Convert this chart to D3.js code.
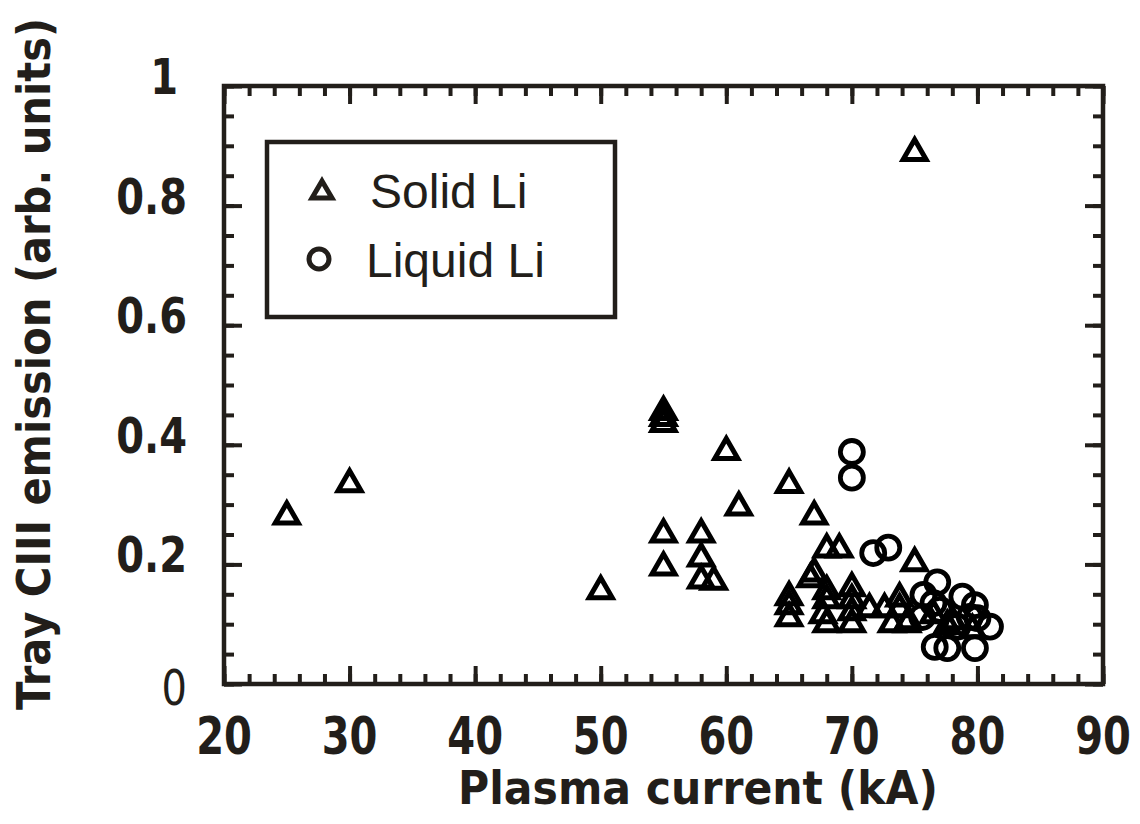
<!DOCTYPE html>
<html>
<head>
<meta charset="utf-8">
<script src="https://cdn.jsdelivr.net/npm/d3@7"></script>
<style>
  body { margin: 0; background: #fff; }
  svg { display: block; }
</style>
</head>
<body>
<div id="VizBox"></div>
<script>
// solid Li (triangles): plasma current (kA) / Tray CIII emission
var solidX = [25, 30, 75, 50, 55, 55, 55, 55, 55, 60, 61, 65, 58, 58, 58, 59,
              67, 68, 69, 67, 66.7, 65, 65, 65, 68, 68, 67.7, 68, 70, 70, 70, 70,
              71.4, 72.6, 73.8, 73.8, 73.2, 74.4, 75, 74.5, 77.6, 79.6, 76.5, 78];
var solidY = [0.285, 0.339, 0.893, 0.16, 0.46, 0.45, 0.44, 0.255, 0.2, 0.393, 0.30, 0.338, 0.255, 0.215, 0.178, 0.176,
              0.285, 0.23, 0.23, 0.19, 0.18, 0.15, 0.135, 0.115, 0.16, 0.145, 0.12, 0.105, 0.165, 0.145, 0.125, 0.105,
              0.13, 0.13, 0.148, 0.13, 0.105, 0.105, 0.207, 0.11, 0.102, 0.095, 0.12, 0.11];

// liquid Li (circles)
var liquidX = [70, 70, 71.7, 72.9, 76.8, 75.7, 76.5, 78.8, 79.8, 79.4, 81, 76.6, 77.6, 79.8, 75.6, 77, 78.4, 80];
var liquidY = [0.388, 0.345, 0.219, 0.228, 0.17, 0.149, 0.135, 0.146, 0.132, 0.112, 0.096, 0.062, 0.06, 0.06, 0.112, 0.124, 0.096, 0.11];

var xTicks = [20, 30, 40, 50, 60, 70, 80, 90];
var yTicks = [0, 0.2, 0.4, 0.6, 0.8, 1];
var yTickLabels = ["0", "0.2", "0.4", "0.6", "0.8", "1"];
var legendLabels = ["Solid Li", "Liquid Li"];

var ink = "#221e1a";
var W = 1140, H = 824;
// plot frame in page pixels
var frame = {left: 224, right: 1103, top: 86, bottom: 684};

var svg = d3.select("#VizBox")
  .append("svg")
    .attr("width", W)
    .attr("height", H);

var x = d3.scaleLinear().domain([20, 90]).range([frame.left, frame.right]);
var y = d3.scaleLinear().domain([0, 1]).range([frame.bottom, frame.top]);

var xMinor = d3.range(20, 90.1, 2);
var yMinor = d3.range(0, 1.001, 0.05);

// ticks pointing inward on all four sides
function ticks(axis, scale, vals, len, pos) {
  svg.append("g")
    .attr("transform", pos)
    .call(axis(scale).tickValues(vals).tickSize(-len).tickFormat(""))
    .call(function(g) { g.select(".domain").remove(); })
    .selectAll("line")
      .attr("stroke", ink)
      .attr("stroke-width", 4);
}
ticks(d3.axisBottom, x, xMinor, 10, "translate(0," + frame.bottom + ")");
ticks(d3.axisBottom, x, xTicks, 18, "translate(0," + frame.bottom + ")");
ticks(d3.axisTop, x, xMinor, 10, "translate(0," + frame.top + ")");
ticks(d3.axisTop, x, xTicks, 18, "translate(0," + frame.top + ")");
ticks(d3.axisLeft, y, yMinor, 10, "translate(" + frame.left + ",0)");
ticks(d3.axisLeft, y, yTicks, 18, "translate(" + frame.left + ",0)");
ticks(d3.axisRight, y, yMinor, 10, "translate(" + frame.right + ",0)");
ticks(d3.axisRight, y, yTicks, 18, "translate(" + frame.right + ",0)");

// frame
svg.append("rect")
  .attr("x", frame.left).attr("y", frame.top)
  .attr("width", frame.right - frame.left).attr("height", frame.bottom - frame.top)
  .attr("fill", "none")
  .attr("stroke", ink)
  .attr("stroke-width", 4.5);

// x tick labels
svg.selectAll(".xlab")
  .data(xTicks)
  .enter()
  .append("text")
    .attr("transform", function(d) { return "translate(" + x(d) + ",754) scale(0.77,1)"; })
    .attr("text-anchor", "middle")
    .attr("font-family", "DejaVu Sans")
    .attr("font-weight", "bold")
    .attr("font-size", 52)
    .attr("fill", ink)
    .text(function(d) { return d; });

// y tick labels
svg.selectAll(".ylab")
  .data(yTicks)
  .enter()
  .append("text")
    .attr("transform", function(d, i) {
      var dx = yTickLabels[i] == "1" ? -9 : 0;
      var dy = yTickLabels[i] == "0" ? 21 : 8;
      return "translate(" + (187 + dx) + "," + (y(d) + dy) + ") scale(0.8,1)";
    })
    .attr("text-anchor", "end")
    .attr("font-family", "DejaVu Sans")
    .attr("font-weight", function(d, i) { return yTickLabels[i] == "0" ? "normal" : "bold"; })
    .attr("font-size", 50)
    .attr("fill", ink)
    .text(function(d, i) { return yTickLabels[i]; });

// axis titles
svg.append("text")
  .attr("x", 698).attr("y", 804)
  .attr("text-anchor", "middle")
  .attr("font-family", "DejaVu Sans")
  .attr("font-weight", "bold")
  .attr("font-size", 46)
  .attr("textLength", 480)
  .attr("lengthAdjust", "spacingAndGlyphs")
  .attr("fill", ink)
  .text("Plasma current (kA)");

svg.append("text")
  .attr("transform", "translate(50,364) rotate(-90)")
  .attr("text-anchor", "middle")
  .attr("font-family", "DejaVu Sans")
  .attr("font-weight", "bold")
  .attr("font-size", 46)
  .attr("textLength", 692)
  .attr("lengthAdjust", "spacingAndGlyphs")
  .attr("fill", ink)
  .text("Tray CIII emission (arb. units)");

// markers
var triPath = "M0,-10.5L11.5,9.5L-11.5,9.5Z";

svg.selectAll(".solid")
  .data(solidX)
  .enter()
  .append("path")
    .attr("d", triPath)
    .attr("transform", function(d, i) { return "translate(" + x(d) + "," + y(solidY[i]) + ")"; })
    .attr("fill", "none")
    .attr("stroke", "#000")
    .attr("stroke-width", 5);

svg.selectAll(".liquid")
  .data(liquidX)
  .enter()
  .append("circle")
    .attr("cx", function(d) { return x(d); })
    .attr("cy", function(d, i) { return y(liquidY[i]); })
    .attr("r", 11.5)
    .attr("fill", "none")
    .attr("stroke", "#000")
    .attr("stroke-width", 4.8);

// legend
svg.append("rect")
  .attr("x", 267).attr("y", 142)
  .attr("width", 348).attr("height", 175)
  .attr("fill", "#fff")
  .attr("stroke", ink)
  .attr("stroke-width", 4.5);

svg.append("path")
  .attr("d", "M0,-9L10,8L-10,8Z")
  .attr("transform", "translate(322,190)")
  .attr("fill", "none")
  .attr("stroke", ink)
  .attr("stroke-width", 5);

svg.append("circle")
  .attr("cx", 319).attr("cy", 259).attr("r", 10)
  .attr("fill", "none")
  .attr("stroke", ink)
  .attr("stroke-width", 5);

svg.selectAll(".leg")
  .data(legendLabels)
  .enter()
  .append("text")
    .attr("x", function(d, i) { return i == 0 ? 370 : 366; })
    .attr("y", function(d, i) { return i == 0 ? 208 : 277; })
    .attr("font-family", "Liberation Sans")
    .attr("font-size", 48)
    .attr("fill", ink)
    .text(function(d) { return d; });
</script>
</body>
</html>
